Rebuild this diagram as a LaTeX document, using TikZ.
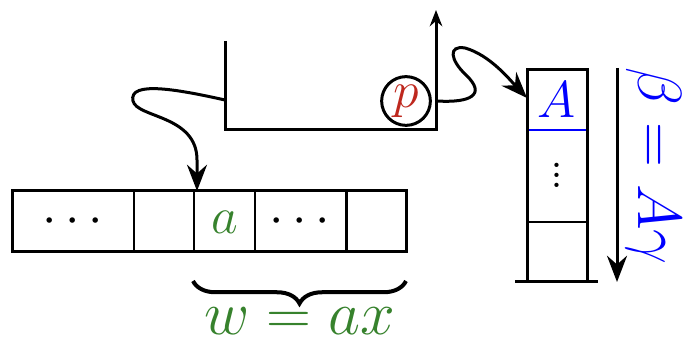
\documentclass[tikz,border=0pt]{standalone}
\usetikzlibrary{arrows.meta,decorations.pathreplacing}
\definecolor{myred}{RGB}{190,40,30}
\definecolor{mygreen}{RGB}{55,130,45}
\definecolor{myblue}{RGB}{0,0,255}
\begin{document}
\begin{tikzpicture}[x=0.4pt,y=-0.4pt,
  thickline/.style={line width=1.2pt},
  thinline/.style={line width=0.6pt},
  curvy/.style={line width=1.2pt,-{Stealth[length=10.5pt,width=8pt,inset=3.5pt]}},
  txt/.style={inner sep=0pt,font=\huge}]
\useasboundingbox (0,0) rectangle (684,337);
% tape
\foreach \x in {134,194,255}{\draw[thinline] (\x,191) -- (\x,252);}
\draw[thickline] (346,191) -- (346,252);
\draw[thickline] (12,191) rectangle (406,252);
\node[txt] (d1) at (73,222) {$\cdots$};
\node[txt,text=mygreen] (ca) at (225,222) {$a$};
\node[txt] (d2) at (300,222) {$\cdots$};
\coordinate (tapein) at (197,191);
% brace
\draw[line width=1.6pt,decorate,decoration={brace,mirror,amplitude=9pt}] (193,281) -- (406,281);
\node[txt,font=\Huge,text=mygreen] (w) at (300,321) {$w=ax$};
% U shape
\coordinate (ul) at (225,41);
\coordinate (ub1) at (225,130);
\coordinate (ub2) at (436,130);
\coordinate (ut) at (436,10);
\draw[thickline,-{Stealth[length=6.5pt,width=5pt]}] (ul) -- (ub1) -- (ub2) -- (ut);
\node[draw,circle,thickline,minimum size=19.5pt,inner sep=0pt,font=\huge,text=myred] (p) at (406,101) {$p$};
\coordinate (s1) at (225,100);
\coordinate (s2) at (437,101);
% stack
\draw[thinline,myblue] (527,130) -- (587,130);
\draw[thinline] (527,222) -- (587,222);
\draw[thickline] (527,282) -- (527,70) -- (587,70) -- (587,282);
\draw[thickline] (515,282) -- (598,282);
\node[txt,text=myblue] (A) at (557,100) {$A$};
\node[txt] (vd) at (557,168) {$\vdots$};
\coordinate (stackin) at (527,98);
% beta arrow
\coordinate (b1) at (617,68);
\coordinate (b2) at (617,282);
\draw[thickline,-{Stealth[length=10.5pt,width=8pt,inset=3.5pt]}] (b1) -- (b2);
\node[txt,font=\Huge,text=myblue,rotate=-90] (beta) at (654,166) {$\beta=A\gamma$};
% curvy arrows
\draw[curvy] (s1) .. controls (180,90) and (128,80) .. (133,101)
  .. controls (137,118) and (197,115) .. (197,160) -- (tapein);
\draw[curvy] (s2) .. controls (470,103) and (487,95) .. (466,75)
  .. controls (450,60) and (448,45) .. (465,48)
  .. controls (490,55) and (510,80) .. (stackin);
\end{tikzpicture}
\end{document}
